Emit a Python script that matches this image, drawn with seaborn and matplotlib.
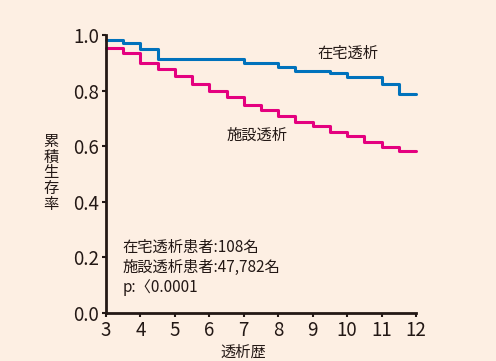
import matplotlib
matplotlib.use('Agg')
import matplotlib.pyplot as plt
import seaborn as sns
import pandas as pd

# Kaplan-Meier step values (years on dialysis)
home_years = [3, 3.5, 4, 4.5, 7, 8, 8.5, 9.5, 10, 11, 11.5, 12]
home_surv = [0.982, 0.970, 0.948, 0.915, 0.899, 0.886, 0.872, 0.865, 0.848, 0.824, 0.787, 0.787]

facility_years = [3, 3.5, 4, 4.5, 5, 5.5, 6, 6.5, 7, 7.5, 8, 8.5, 9, 9.5, 10, 10.5, 11, 11.5, 12]
facility_surv = [0.954, 0.934, 0.898, 0.878, 0.851, 0.824, 0.798, 0.777, 0.748, 0.730,
                 0.710, 0.686, 0.671, 0.651, 0.635, 0.615, 0.598, 0.584, 0.584]

x_ticks = [3, 4, 5, 6, 7, 8, 9, 10, 11, 12]
y_ticks = [0.0, 0.2, 0.4, 0.6, 0.8, 1.0]

bg = '#FDEFE3'
ink = '#231815'

sns.set_theme(style='ticks')
plt.rcParams['font.family'] = ['Noto Sans CJK JP', 'DejaVu Sans']

home = pd.DataFrame({'year': home_years, 'surv': home_surv})
facility = pd.DataFrame({'year': facility_years, 'surv': facility_surv})

fig = plt.figure(figsize=(4.96, 3.61), dpi=100, facecolor=bg)
ax = fig.add_axes([0.2137, 0.133, 0.625, 0.770])
ax.set_facecolor(bg)

sns.lineplot(data=home, x='year', y='surv', ax=ax, color='#0072BC',
             linewidth=2.2, drawstyle='steps-post', clip_on=False)
sns.lineplot(data=facility, x='year', y='surv', ax=ax, color='#E4007F',
             linewidth=2.2, drawstyle='steps-post', clip_on=False)

ax.set_xlim(3, 12)
ax.set_ylim(0, 1.0)
ax.set_xticks(x_ticks)
ax.set_yticks(y_ticks)
ax.set_yticklabels([f'{v:.1f}' for v in y_ticks])
ax.tick_params(axis='both', colors=ink, labelsize=13.5, length=3, width=1.5, pad=2)
for side in ['top', 'right']:
    ax.spines[side].set_visible(False)
for side in ['left', 'bottom']:
    ax.spines[side].set_color(ink)
    ax.spines[side].set_linewidth(2)

ax.set_xlabel('')
ax.set_ylabel('')
fig.text(243 / 496, 1 - 352 / 361, '透析歴', ha='center', va='center', fontsize=11, color=ink)
fig.text(51 / 496, 1 - 173 / 361, '累\n積\n生\n存\n率', ha='center', va='center',
         fontsize=11, color=ink, linespacing=0.92)

ax.text(10.03, 0.935, '在宅透析', ha='center', va='center', fontsize=11, color=ink)
ax.text(7.39, 0.64, '施設透析', ha='center', va='center', fontsize=11, color=ink)
ax.text(3.47, 0.265, '在宅透析患者:108名\n施設透析患者:47,782名\np:〈0.0001',
        ha='left', va='top', fontsize=11, color=ink, linespacing=1.2)

fig.savefig('out.png', dpi=100, facecolor=bg)
